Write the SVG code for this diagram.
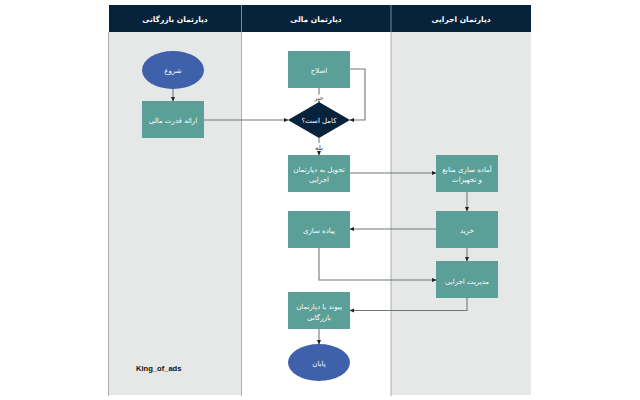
<svg xmlns="http://www.w3.org/2000/svg" width="640" height="400" viewBox="0 0 640 400">
<style>
text{font-family:"DejaVu Sans",sans-serif;text-anchor:middle;direction:rtl}
.hd{fill:#fff;font-size:7.500px;font-weight:bold}
.hdr{fill:#06233b}
.lane{fill:#e6e7e7}
.div{stroke:#a8adb0;stroke-width:1;fill:none}
.box{fill:#5a9f98}
.t{fill:#fff;font-size:7px}
.oval{fill:#3f60aa}
.c{stroke:#70787c;stroke-width:1.100;fill:none;marker-end:url(#a)}
.l{fill:#333;font-size:7px}
</style>
<defs><marker id="a" markerUnits="userSpaceOnUse" markerWidth="5" markerHeight="5" refX="4" refY="2.500" orient="auto"><path d="M0 0.500L4.500 2.500L0 4.500Z" fill="#222"/></marker></defs>
<rect width="640" height="400" fill="#fff"/>
<g id="lanes">
<rect class="lane" x="109" y="32" width="132" height="363"/>
<rect class="lane" x="391" y="32" width="140" height="363"/>
<path class="div" d="M108.500 32V396M241.500 32V396M391 32V396"/>
<rect class="hdr" x="109" y="5" width="422" height="27"/>
<path d="M241.500 5V32M391 5V32" stroke="#7d8b96" stroke-width="1"/>
</g>
<g id="connectors">
<path class="c" d="M173 89V101"/>
<path class="c" d="M204 120H288"/>
<path class="c" d="M319 88V102"/>
<path class="c" d="M350 69H365V120H350"/>
<path class="c" d="M319 138V155"/>
<path class="c" d="M350 173H436"/>
<path class="c" d="M467 192V211"/>
<path class="c" d="M436 229H350"/>
<path class="c" d="M467 248V261"/>
<path class="c" d="M319 248V280H436"/>
<path class="c" d="M467 298V310.500H350"/>
<path class="c" d="M319 329V344"/>
</g>
<g id="h1"><text class="hd" x="175" y="22">دپارتمان بازرگانی</text></g>
<g id="h2"><text class="hd" x="316" y="22">دپارتمان مالی</text></g>
<g id="h3"><text class="hd" x="461" y="22">دپارتمان اجرایی</text></g>
<g id="start"><ellipse class="oval" cx="173" cy="70" rx="31" ry="19"/><text class="t" x="173" y="73">شروع</text></g>
<g id="offer"><rect class="box" x="142" y="101" width="62" height="37"/><text class="t" x="173" y="123">ارائه قدرت مالی</text></g>
<g id="fix"><rect class="box" x="288" y="51" width="62" height="37"/><text class="t" x="319" y="73">اصلاح</text></g>
<g id="no"><rect x="313" y="94.500" width="12" height="6.500" fill="#fff"/><text class="l" x="319" y="100" style="font-size:6px">خیر</text></g>
<g id="check"><path d="M319 102L350 120L319 138L288 120Z" fill="#06233b"/><text class="t" x="319" y="123">کامل است؟</text></g>
<g id="yes"><rect x="312" y="143" width="14" height="8" fill="#fff"/><text class="l" x="319" y="150">بله</text></g>
<g id="deliver"><rect class="box" x="288" y="155" width="62" height="37"/><text class="t" x="319" y="172">تحویل به دپارتمان</text><text class="t" x="319" y="182">اجرایی</text></g>
<g id="prepare"><rect class="box" x="436" y="155" width="62" height="37"/><text class="t" x="467" y="172">آماده سازی منابع</text><text class="t" x="467" y="182">و تجهیزات</text></g>
<g id="buy"><rect class="box" x="436" y="211" width="62" height="37"/><text class="t" x="467" y="233">خرید</text></g>
<g id="implement"><rect class="box" x="288" y="211" width="62" height="37"/><text class="t" x="319" y="233">پیاده سازی</text></g>
<g id="manage"><rect class="box" x="436" y="261" width="62" height="37"/><text class="t" x="467" y="284">مدیریت اجرایی</text></g>
<g id="link"><rect class="box" x="288" y="292" width="62" height="37"/><text class="t" x="319" y="309">پیوند با دپارتمان</text><text class="t" x="319" y="320">بازرگانی</text></g>
<g id="end"><ellipse class="oval" cx="319" cy="362.500" rx="31" ry="18.500"/><text class="t" x="319" y="366">پایان</text></g>
<text x="158.700" y="371" style="font-family:'Liberation Sans',sans-serif;font-size:7.600px;font-weight:bold;fill:#111;direction:ltr">King_of_ads</text>
</svg>
